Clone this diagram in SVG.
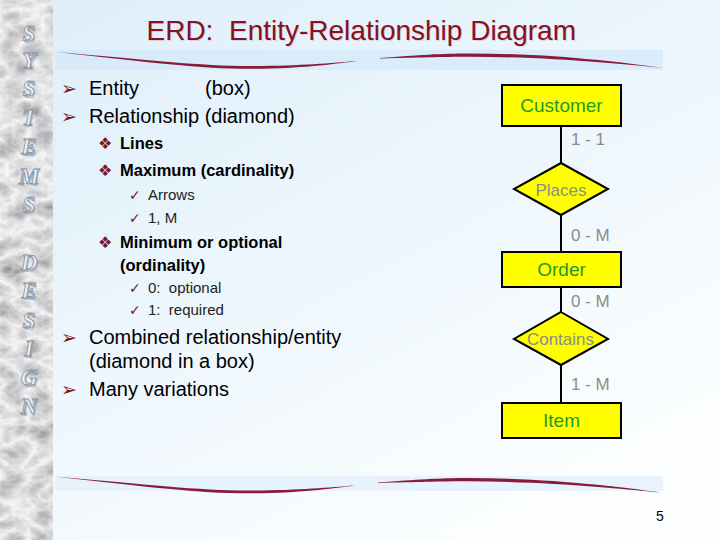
<svg xmlns="http://www.w3.org/2000/svg" width="720" height="540" viewBox="0 0 720 540">
<defs>
<linearGradient id="bg" x1="0" y1="0" x2="0.7" y2="1">
<stop offset="0" stop-color="#ddeefa"/>
<stop offset="1" stop-color="#fcfeff"/>
</linearGradient>
<filter id="marble" x="0" y="0" width="1" height="1" filterUnits="objectBoundingBox">
<feTurbulence type="turbulence" baseFrequency="0.035 0.05" numOctaves="4" seed="7"/>
<feColorMatrix type="matrix" values="-0.8 0 0 0 0.96  -0.8 0 0 0 0.96  -0.8 0 0 0 0.97  0 0 0 0 1"/>
</filter>
<path id="wave" d="M57,52 C150,60 200,66 250,66 C300,66 330,63 357,61 C330,64.5 300,68.8 250,68.8 C200,68.8 150,62.5 57,52 Z M380,58 C420,55 440,53.5 470,53.5 C550,53.5 620,62 663,68 C620,64 550,56.8 470,56.8 C440,56.8 420,57.8 380,58.4 Z"/>
<style>
.t{font-family:"Liberation Sans",Arial,sans-serif;fill:#000}
.l1{font-size:20px}
.l2{font-size:16.5px;font-weight:bold}
.l3{font-size:15px;fill:#222}
.b{font-family:"DejaVu Sans",sans-serif;fill:#7a1428}
.sd{font-family:"Liberation Serif","Times New Roman",serif;font-style:italic;font-weight:bold;font-size:23px;text-anchor:middle}
.sdf{fill:#e8f0f8;stroke:#7d8fa3;stroke-width:0.8}
.sds{fill:#7f8a96;opacity:0.45}
.box{fill:#ffff00;stroke:#000;stroke-width:2}
.nl{font-family:"Liberation Sans",Arial,sans-serif;font-size:19px;fill:#1e9a28;text-anchor:middle}
.rl{font-family:"Liberation Sans",Arial,sans-serif;font-size:17px;fill:#8c8c84;text-anchor:middle}
.card{font-family:"Liberation Sans",Arial,sans-serif;font-size:17px;fill:#8c8c8c}
.conn{stroke:#000;stroke-width:2;fill:none}
</style>
</defs>
<rect x="0" y="0" width="720" height="540" fill="url(#bg)"/>
<rect x="0" y="0" width="53" height="540" fill="#d8d8d8" filter="url(#marble)"/>
<g id="side-letters-shadow" class="sd sds" transform="translate(1.5,1.5)">
<text x="29" y="41">S</text><text x="29" y="68">Y</text><text x="29" y="96">S</text><text x="29" y="125">T</text><text x="29" y="154">E</text><text x="29" y="184">M</text><text x="29" y="212">S</text>
<text x="29" y="270">D</text><text x="29" y="298">E</text><text x="29" y="328">S</text><text x="29" y="356">I</text><text x="29" y="385">G</text><text x="29" y="414">N</text>
</g>
<g id="side-letters" class="sd sdf">
<text x="29" y="41">S</text><text x="29" y="68">Y</text><text x="29" y="96">S</text><text x="29" y="125">T</text><text x="29" y="154">E</text><text x="29" y="184">M</text><text x="29" y="212">S</text>
<text x="29" y="270">D</text><text x="29" y="298">E</text><text x="29" y="328">S</text><text x="29" y="356">I</text><text x="29" y="385">G</text><text x="29" y="414">N</text>
</g>
<rect x="55" y="50" width="608" height="20" fill="#d6eafa" opacity="0.8"/>
<rect x="55" y="476" width="608" height="15" fill="#e2f0fb" opacity="0.8"/>
<use href="#wave" fill="#8a1a3a"/>
<use href="#wave" fill="#8a1a3a" transform="translate(-2,424.5)"/>
<g id="title">
<text x="147.5" y="41" font-family="Liberation Sans, Arial, sans-serif" font-size="28" fill="#c4b4b8" opacity="0.5" xml:space="preserve">ERD:  Entity-Relationship Diagram</text>
<text x="146.5" y="40" font-family="Liberation Sans, Arial, sans-serif" font-size="28" fill="#8a0f1f" xml:space="preserve">ERD:  Entity-Relationship Diagram</text>
</g>
<g id="bullets">
<text class="b" x="61" y="95" font-size="19">➢</text>
<text class="t l1" x="89" y="95">Entity</text>
<text class="t l1" x="205" y="95">(box)</text>
<text class="b" x="61" y="123" font-size="19">➢</text>
<text class="t l1" x="89" y="123">Relationship (diamond)</text>
<text class="b" x="98" y="149" font-size="16">❖</text>
<text class="t l2" x="120" y="149">Lines</text>
<text class="b" x="98" y="176" font-size="16">❖</text>
<text class="t l2" x="120" y="176">Maximum (cardinality)</text>
<text class="b" x="129" y="200" font-size="14">✓</text>
<text class="t l3" x="148" y="200">Arrows</text>
<text class="b" x="129" y="223" font-size="14">✓</text>
<text class="t l3" x="148" y="223">1, M</text>
<text class="b" x="98" y="248" font-size="16">❖</text>
<text class="t l2" x="120" y="248">Minimum or optional</text>
<text class="t l2" x="120" y="271">(ordinality)</text>
<text class="b" x="129" y="293" font-size="14">✓</text>
<text class="t l3" x="148" y="293" xml:space="preserve">0:  optional</text>
<text class="b" x="129" y="315" font-size="14">✓</text>
<text class="t l3" x="148" y="315" xml:space="preserve">1:  required</text>
<text class="b" x="61" y="344" font-size="19">➢</text>
<text class="t l1" x="89" y="344">Combined relationship/entity</text>
<text class="t l1" x="89" y="368">(diamond in a box)</text>
<text class="b" x="61" y="396" font-size="19">➢</text>
<text class="t l1" x="89" y="396">Many variations</text>
</g>
<g id="connectors">
<line class="conn" x1="561" y1="126" x2="561" y2="163"/>
<line class="conn" x1="561" y1="215" x2="561" y2="252"/>
<line class="conn" x1="561" y1="287" x2="561" y2="312"/>
<line class="conn" x1="561" y1="365" x2="561" y2="403"/>
<text class="card" x="571" y="145">1 - 1</text>
<text class="card" x="571" y="241">0 - M</text>
<text class="card" x="571" y="307">0 - M</text>
<text class="card" x="571" y="390">1 - M</text>
</g>
<g id="customer">
<rect class="box" x="502" y="85" width="119" height="41"/>
<text class="nl" x="561.5" y="112">Customer</text>
</g>
<g id="places">
<polygon class="box" points="561,163 608,189 561,215 514,189"/>
<text class="rl" x="561" y="196">Places</text>
</g>
<g id="order">
<rect class="box" x="502" y="252" width="119" height="35"/>
<text class="nl" x="561.5" y="276">Order</text>
</g>
<g id="contains">
<polygon class="box" points="561,312 608,339 561,365 514,339"/>
<text class="rl" x="560.5" y="345" font-size="17.5">Contains</text>
</g>
<g id="item">
<rect class="box" x="502" y="403" width="119" height="35"/>
<text class="nl" x="561.5" y="427">Item</text>
</g>
<text x="656" y="521" font-family="Liberation Sans, Arial, sans-serif" font-size="14" fill="#000">5</text>
</svg>
